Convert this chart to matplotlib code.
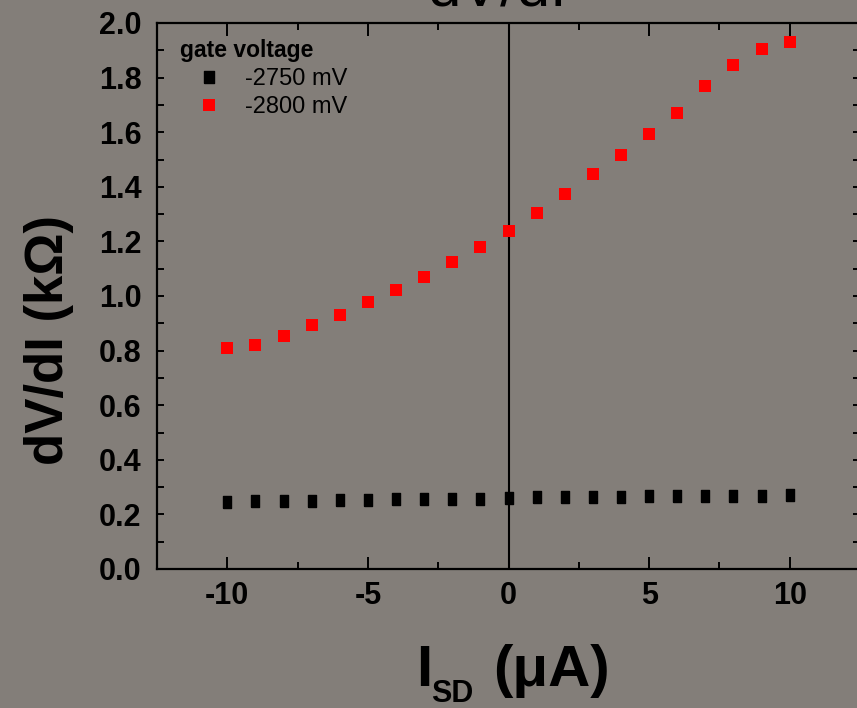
import matplotlib
matplotlib.use("Agg")
import matplotlib.pyplot as plt
from matplotlib.ticker import MultipleLocator

plt.rcParams['font.family'] = ['Liberation Sans', 'DejaVu Sans']
plt.rcParams['axes.unicode_minus'] = False

current = [-10, -9, -8, -7, -6, -5, -4, -3, -2, -1, 0, 1, 2, 3, 4, 5, 6, 7, 8, 9, 10]
dvdi_2750 = [0.246, 0.248, 0.249, 0.250, 0.252, 0.253, 0.255, 0.256, 0.257, 0.258, 0.260,
             0.262, 0.262, 0.263, 0.265, 0.266, 0.267, 0.268, 0.268, 0.269, 0.271]
dvdi_2800 = [0.81, 0.82, 0.853, 0.894, 0.93, 0.978, 1.022, 1.07, 1.125, 1.18, 1.238,
             1.304, 1.374, 1.447, 1.516, 1.593, 1.67, 1.769, 1.846, 1.905, 1.93]
labels = ['-2750 mV', '-2800 mV']

bg = '#837e79'
W, H = 857, 708
fig = plt.figure(figsize=(W / 100, H / 100), dpi=100, facecolor=bg)
ax = fig.add_axes([157 / W, 1 - 569 / H, 703 / W, 546 / H], facecolor=bg)

rect = [(-0.37, -0.5), (0.37, -0.5), (0.37, 0.5), (-0.37, 0.5), (-0.37, -0.5)]
ax.plot(current, dvdi_2750, linestyle='none', marker=rect, markersize=8.5,
        color='black', label=labels[0])
ax.plot(current, dvdi_2800, linestyle='none', marker='s', markersize=8,
        color='#ff0000', markeredgewidth=0, label=labels[1])
ax.axvline(0, color='black', linewidth=1.5, zorder=1)

ax.set_xlim(-12.5, 12.5)
ax.set_ylim(0, 2.0)
ax.xaxis.set_major_locator(MultipleLocator(5))
ax.xaxis.set_minor_locator(MultipleLocator(2.5))
ax.yaxis.set_major_locator(MultipleLocator(0.2))
ax.yaxis.set_minor_locator(MultipleLocator(0.1))
ax.yaxis.set_major_formatter(plt.FuncFormatter(lambda v, p: f'{v:.1f}'))

for s in ax.spines.values():
    s.set_linewidth(1.6)
ax.tick_params(which='both', direction='in', top=True, right=True, width=1.4, colors='black')
ax.tick_params(axis='x', which='major', length=9, pad=9)
ax.tick_params(axis='x', which='minor', length=5)
ax.tick_params(axis='y', which='both', length=5, pad=11)
for lab in ax.get_xticklabels() + ax.get_yticklabels():
    lab.set_fontsize(22)
    lab.set_fontweight('bold')

ax.set_ylabel('dV/dI (kΩ)', fontsize=38, fontweight='bold')
ax.yaxis.set_label_coords(-0.118, 0.42)

# x-axis label: I with a subscript SD, then (μA)
fig.text(416 / W, 1 - 686 / H, 'I', fontsize=42, fontweight='bold', ha='left', va='baseline')
fig.text(431 / W, 1 - 702 / H, 'SD', fontsize=22, fontweight='bold', ha='left', va='baseline')
fig.text(493 / W, 1 - 686 / H, '(μA)', fontsize=42, fontweight='bold', ha='left', va='baseline')

fig.text(497 / W, 1 - 5 / H, 'dV/dI', fontsize=43, ha='center', va='baseline', color='black')

leg = ax.legend(loc='upper left', bbox_to_anchor=(0.019, 0.988), frameon=False,
                title='gate voltage', fontsize=17, handletextpad=0.25, handlelength=2.5,
                labelspacing=0.25, borderaxespad=0, markerscale=1.1)
leg.get_title().set_fontweight('bold')
leg.get_title().set_fontsize(16.5)
leg._legend_box.align = 'left'

fig.savefig('out.png', dpi=100, facecolor=bg)
